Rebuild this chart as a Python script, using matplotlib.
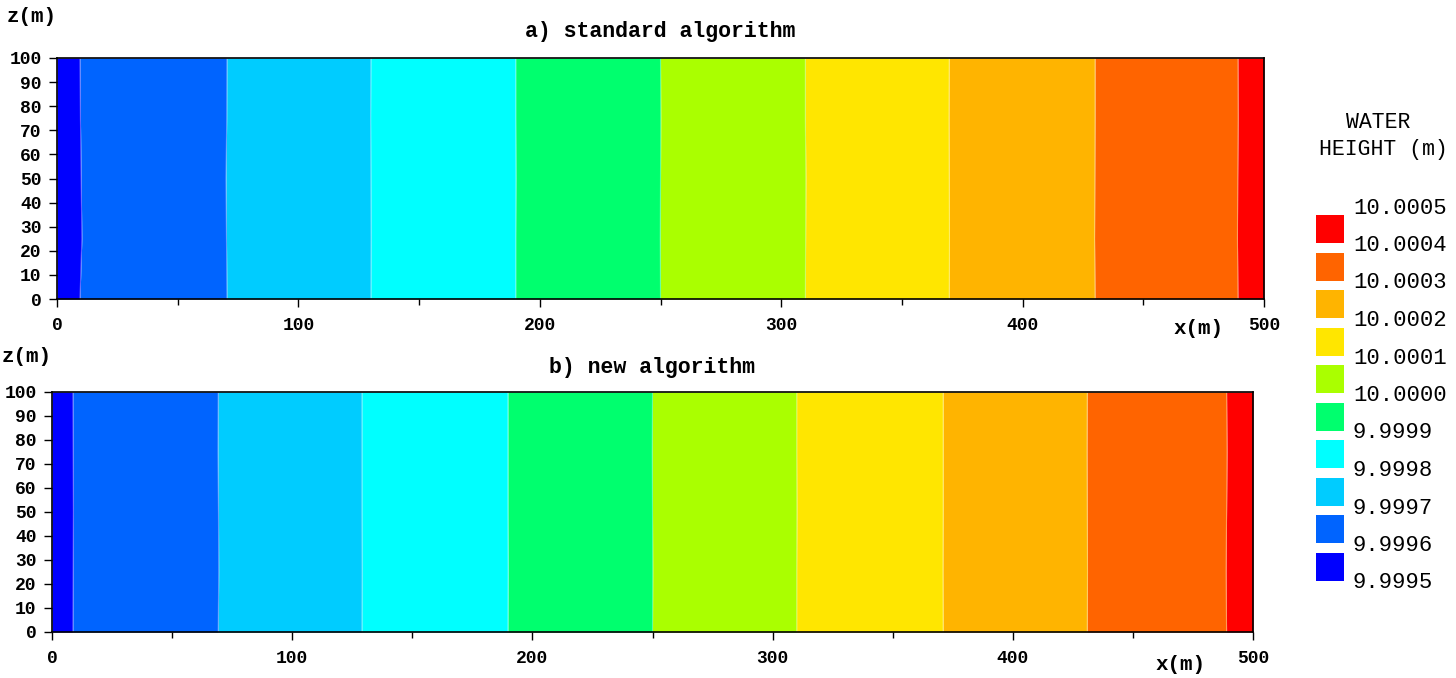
import matplotlib
matplotlib.use('Agg')
import matplotlib.pyplot as plt
from matplotlib.patches import Rectangle

plt.rcParams['font.family'] = ['Liberation Mono', 'DejaVu Sans Mono']

# ---------------- data ----------------
z_pts = [0, 25, 50, 75, 100]

# x position (m) of each contour edge at the z_pts heights
edges_a = [
    [9.5, 10.3, 10.0, 9.7, 9.5],
    [70.4, 70.2, 70.0, 70.3, 70.4],
    [130.0, 130.1, 130.0, 129.9, 130.0],
    [190.0, 190.0, 190.1, 190.0, 190.0],
    [250.0, 249.9, 250.0, 250.1, 250.0],
    [310.0, 310.1, 310.2, 310.0, 310.0],
    [369.6, 369.7, 369.6, 369.5, 369.6],
    [430.0, 429.8, 429.9, 430.0, 430.0],
    [489.2, 489.0, 489.1, 489.3, 489.2],
]
edges_b = [
    [8.7, 8.8, 8.9, 8.8, 8.7],
    [69.2, 69.4, 69.3, 69.1, 69.2],
    [129.0, 129.1, 129.0, 129.0, 129.0],
    [189.8, 189.9, 189.8, 189.8, 189.8],
    [250.0, 250.1, 250.0, 249.9, 250.0],
    [310.0, 310.0, 310.1, 310.0, 310.0],
    [371.0, 370.9, 371.0, 371.0, 371.0],
    [431.0, 431.1, 431.0, 430.9, 431.0],
    [489.0, 488.8, 489.0, 489.2, 489.0],
]

levels = ['9.9995', '9.9996', '9.9997', '9.9998', '9.9999', '10.0000',
          '10.0001', '10.0002', '10.0003', '10.0004', '10.0005']
colors = ['#0000ff', '#0064ff', '#00ccff', '#00ffff', '#00ff6e',
          '#aaff00', '#ffe600', '#ffb400', '#ff6400', '#ff0000']

x_ticks = [0, 100, 200, 300, 400, 500]
x_minor = [50, 150, 250, 350, 450]
z_ticks = [0, 10, 20, 30, 40, 50, 60, 70, 80, 90, 100]

# ---------------- figure ----------------
fig = plt.figure(figsize=(14.56, 6.78), dpi=100)

def panel(rect, edges, title, title_xy, zlab_xy, xlab_xy):
    ax = fig.add_axes(rect)
    left = [0] * len(z_pts)
    right = [500] * len(z_pts)
    bounds = [left] + edges + [right]
    for i in range(len(colors)):
        ax.fill_betweenx(z_pts, bounds[i], bounds[i + 1], color=colors[i], lw=0)
    for e in edges:
        ax.plot(e, z_pts, color='white', lw=0.8, alpha=0.35)
    ax.set_xlim(0, 500)
    ax.set_ylim(0, 100)
    ax.set_xticks(x_ticks)
    ax.set_xticks(x_minor, minor=True)
    ax.set_yticks(z_ticks)
    ax.tick_params(axis='both', which='major', length=6, width=1, direction='out',
                   labelsize=13)
    ax.tick_params(axis='x', which='major', pad=7)
    ax.tick_params(axis='y', which='major', pad=5)
    ax.tick_params(axis='x', which='minor', length=4, width=1)
    for lab in ax.get_xticklabels() + ax.get_yticklabels():
        lab.set_fontweight('bold')
    for s in ax.spines.values():
        s.set_linewidth(1.2)
    fig.text(title_xy[0] / 1456, 1 - title_xy[1] / 678, title, ha='center', va='center',
             fontsize=15.5, fontweight='bold')
    fig.text(zlab_xy[0] / 1456, 1 - zlab_xy[1] / 678, 'z(m)', ha='center', va='center',
             fontsize=15, fontweight='bold')
    fig.text(xlab_xy[0] / 1456, 1 - xlab_xy[1] / 678, 'x(m)', ha='center', va='center',
             fontsize=15, fontweight='bold')
    return ax

panel([57 / 1456, 1 - 299 / 678, 1207 / 1456, 241 / 678], edges_a,
      'a) standard algorithm', (660, 32), (32, 17), (1198, 329))
panel([52 / 1456, 1 - 632 / 678, 1201 / 1456, 240 / 678], edges_b,
      'b) new algorithm', (652, 367), (27, 357), (1180, 665))

# ---------------- legend ----------------
fig.text(1378 / 1456, 1 - 123 / 678, 'WATER', ha='center', va='center', fontsize=15.5)
fig.text(1383 / 1456, 1 - 149 / 678, 'HEIGHT (m)', ha='center', va='center', fontsize=15.5)

lax = fig.add_axes([1316 / 1456, 1 - 590 / 678, 140 / 1456, 390 / 678])
lax.set_xlim(0, 140)
lax.set_ylim(590, 200)
lax.axis('off')
step = 37.5
for i, c in enumerate(colors[::-1]):
    top = 215 + i * step
    lax.add_patch(Rectangle((0, top), 28, 28, color=c, lw=0))
for i, lab in enumerate(levels[::-1]):
    lax.text(37, 208 + i * step, lab, ha='left', va='center', fontsize=16)

fig.savefig('out.png', dpi=100)
